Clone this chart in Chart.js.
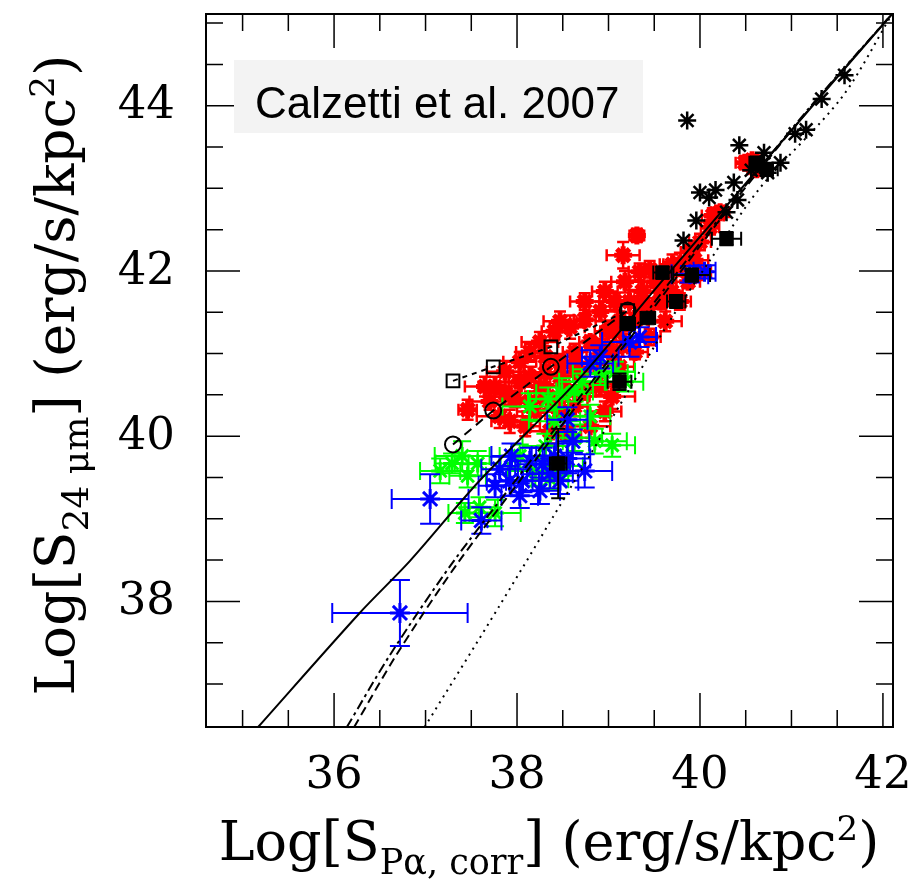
<!DOCTYPE html>
<html>
<head>
<meta charset="utf-8">
<script src="https://cdn.jsdelivr.net/npm/chart.js@4.4.0/dist/chart.umd.min.js"></script>
<style>
  html, body { margin: 0; padding: 0; background: #fff; }
  #wrap { width: 918px; height: 879px; }
</style>
</head>
<body>
<div id="wrap"><canvas id="c" width="918" height="879"></canvas></div>
<script>
// ---------- axis ranges / ticks ----------
const xRange = [34.6, 42.11];
const yRange = [36.48, 45.11];
const xMajorTicks = [36, 38, 40, 42];
const xTickLabels = ['36', '38', '40', '42'];
const xMinorTicks = [35, 35.5, 36, 36.5, 37, 37.5, 38, 38.5, 39, 39.5, 40, 40.5, 41, 41.5, 42];
const yMajorTicks = [38, 40, 42, 44];
const yTickLabels = ['38', '40', '42', '44'];
const yMinorTicks = [37, 37.5, 38, 38.5, 39, 39.5, 40, 40.5, 41, 41.5, 42, 42.5, 43, 43.5, 44, 44.5, 45];

// ---------- red points ----------
const redX = [37.46,37.70,37.87,38.03,38.14,38.31,38.34,38.47,38.52,38.63,38.69,38.80,38.85,38.91,38.99,39.04,39.12,39.18,39.23,39.30,39.37,39.43,39.51,39.56,39.65,39.69,39.78,39.87,39.94,40.00,38.25,38.41,38.58,38.74,38.91,39.07,39.18,39.31,39.16,39.45,39.70,39.89,40.00,40.11,40.49,40.57,40.62,37.92,38.09,38.36,38.55,38.80,38.96,38.20,38.63,39.04,38.47,37.81,38.03,38.14,37.87,37.65,39.34,38.96,38.74,38.47,40.22,40.14,37.76,37.98,38.25,38.41,38.74,39.12,39.29,39.45,39.62,39.78,38.47,38.31,38.91,39.07,39.34,39.56,38.14,38.63];
const redY = [40.32,40.42,40.52,40.66,40.42,40.76,40.48,40.90,40.60,41.02,40.76,41.14,40.88,40.60,41.27,41.02,41.39,41.14,41.63,41.41,41.75,41.57,41.87,41.63,41.99,41.75,42.08,41.87,42.13,41.99,41.14,41.27,41.32,41.41,41.51,41.63,41.87,42.43,42.19,42.02,42.08,42.23,42.35,42.53,43.31,43.34,43.23,40.18,40.12,40.06,40.02,40.12,40.30,40.30,40.36,40.48,40.30,40.24,40.90,41.02,40.78,40.60,41.99,41.75,41.63,41.39,42.71,42.67,40.60,40.45,40.60,40.42,40.54,40.84,41.02,41.20,41.39,41.63,40.72,40.96,41.08,41.27,41.57,41.81,40.72,40.84];
const redXErr = [0.10,0.22,0.15,0.12,0.18,0.14,0.20,0.12,0.16,0.13,0.18,0.12,0.15,0.20,0.14,0.12,0.16,0.13,0.18,0.12,0.15,0.20,0.12,0.14,0.16,0.12,0.18,0.13,0.15,0.12,0.20,0.14,0.16,0.12,0.18,0.13,0.15,0.08,0.18,0.12,0.14,0.10,0.12,0.10,0.10,0.08,0.10,0.20,0.16,0.25,0.15,0.22,0.18,0.20,0.14,0.25,0.16,0.25,0.18,0.15,0.20,0.22,0.12,0.14,0.16,0.18,0.10,0.12,0.18,0.14,0.20,0.15,0.12,0.16,0.14,0.12,0.18,0.12,0.15,0.20,0.14,0.16,0.12,0.14,0.18,0.15];
const redYErr = [0.12,0.10,0.14,0.08,0.12,0.10,0.15,0.09,0.12,0.10,0.14,0.08,0.12,0.10,0.13,0.09,0.12,0.10,0.14,0.08,0.12,0.10,0.13,0.09,0.12,0.10,0.14,0.08,0.12,0.10,0.12,0.10,0.14,0.08,0.12,0.10,0.13,0.08,0.16,0.10,0.12,0.08,0.10,0.09,0.08,0.07,0.08,0.14,0.12,0.15,0.10,0.14,0.12,0.10,0.12,0.15,0.10,0.14,0.12,0.10,0.13,0.12,0.10,0.12,0.10,0.12,0.08,0.09,0.12,0.10,0.13,0.11,0.10,0.12,0.09,0.10,0.12,0.10,0.11,0.13,0.10,0.12,0.09,0.10,0.12,0.11];

// ---------- green points ----------
const greenX = [37.16,37.29,37.40,37.46,37.57,37.43,37.76,37.59,38.03,38.20,38.36,38.31,38.14,38.34,38.49,38.63,38.71,38.91,39.07,38.63,38.85,39.04,38.52,38.41,38.80,39.18];
const greenY = [39.58,39.67,39.76,39.52,39.67,39.07,39.07,39.14,39.76,39.58,39.48,39.88,40.36,40.45,40.52,40.54,40.66,40.76,40.78,39.98,39.94,39.89,39.64,40.18,40.24,40.66];
const greenXErr = [0.22,0.18,0.30,0.20,0.25,0.18,0.28,0.20,0.22,0.30,0.20,0.25,0.30,0.22,0.28,0.20,0.25,0.30,0.22,0.30,0.35,0.25,0.20,0.28,0.22,0.20];
const greenYErr = [0.15,0.12,0.18,0.14,0.15,0.12,0.16,0.12,0.14,0.18,0.12,0.15,0.16,0.14,0.18,0.12,0.15,0.14,0.12,0.16,0.15,0.14,0.12,0.15,0.14,0.12];

// ---------- blue points ----------
const blueX = [36.72,37.05,37.61,37.81,37.92,38.06,38.14,38.28,38.41,38.55,38.61,38.74,38.55,38.80,38.91,39.23,39.34,39.89,40.05,38.25,38.03,38.36,37.76,37.94,38.47];
const blueY = [37.86,39.24,38.98,39.60,39.46,39.46,39.70,39.66,39.76,39.73,39.94,39.58,40.20,40.88,40.96,41.14,41.20,41.96,41.99,39.34,39.28,39.55,39.40,39.76,39.46];
const blueXErr = [0.74,0.42,0.22,0.20,0.25,0.18,0.22,0.30,0.20,0.25,0.18,0.30,0.22,0.25,0.20,0.30,0.18,0.20,0.12,0.22,0.20,0.25,0.18,0.22,0.20];
const blueYErr = [0.40,0.30,0.16,0.15,0.18,0.14,0.16,0.20,0.15,0.18,0.14,0.20,0.15,0.16,0.14,0.18,0.12,0.10,0.08,0.16,0.15,0.18,0.14,0.15,0.16];

// ---------- black asterisks ----------
const starX = [39.86,40.43,40.70,40.88,41.04,41.16,41.33,40.00,40.10,39.96,39.82,40.37,40.41,40.74,40.17,40.29,41.58,40.56];
const starY = [43.82,43.52,43.43,43.31,43.66,43.71,44.08,42.95,42.89,42.61,42.37,43.07,42.86,43.19,42.98,42.71,44.37,43.22];

// ---------- black filled squares ----------
const sqX = [40.62,40.73,40.29,39.59,39.91,39.74,39.43,39.21,39.12,38.45];
const sqY = [43.31,43.23,42.39,41.98,41.95,41.63,41.43,41.36,40.66,39.67];
const sqXErr = [0.08,0.12,0.16,0.10,0.20,0.10,0.08,0.08,0.13,0.09];
const sqYErr = [0.06,0.08,0.08,0.07,0.08,0.08,0.06,0.06,0.10,0.42];

// ---------- model tracks ----------
const trackX = [37.30, 37.74, 38.37, 39.21];
const trackSqY = [40.67, 40.84, 41.08, 41.52];
const trackCircY = [39.90, 40.31, 40.84, 41.52];

// ---------- fit / model curves ----------
const solidX = [35.17, 36.28, 36.83, 37.59, 38.65, 39.64, 41.45, 42.10];
const solidY = [36.48, 37.86, 38.49, 39.46, 40.66, 41.95, 44.28, 45.11];
const dashAX = [36.14, 36.61, 37.27, 37.98, 38.69, 39.34, 40.22, 41.20, 42.10];
const dashAY = [36.48, 37.35, 38.43, 39.46, 40.48, 41.39, 42.65, 43.98, 45.11];
const dashBX = [36.22, 36.68, 37.33, 38.03, 38.73, 39.38, 40.24, 41.21, 42.10];
const dashBY = [36.48, 37.35, 38.43, 39.46, 40.48, 41.39, 42.65, 43.98, 45.11];
const dotX = [36.99, 37.81, 38.63, 39.18, 39.65, 40.11, 40.66, 41.55, 42.10];
const dotY = [36.48, 37.95, 39.46, 40.48, 41.36, 42.13, 43.01, 44.10, 45.11];

const pts = (xs, ys) => xs.map((v, i) => ({ x: v, y: ys[i] }));

const errorBarPlugin = {
  id: 'errorBars',
  beforeDatasetDraw(chart, args) {
    const ds = chart.data.datasets[args.index];
    if (!ds.xErr && !ds.yErr) return;
    const xs = chart.scales.x, ys = chart.scales.y, a = chart.chartArea;
    const ctx = chart.ctx;
    ctx.save();
    ctx.beginPath();
    ctx.rect(a.left, a.top, a.right - a.left, a.bottom - a.top);
    ctx.clip();
    ctx.strokeStyle = ds.borderColor;
    ctx.lineWidth = ds.errWidth || 2;
    const cap = (ds.capSize || 12) / 2;
    ds.data.forEach((p, i) => {
      const px = xs.getPixelForValue(p.x), py = ys.getPixelForValue(p.y);
      ctx.beginPath();
      if (ds.xErr) {
        const x1 = xs.getPixelForValue(p.x - ds.xErr[i]);
        const x2 = xs.getPixelForValue(p.x + ds.xErr[i]);
        ctx.moveTo(x1, py); ctx.lineTo(x2, py);
        ctx.moveTo(x1, py - cap); ctx.lineTo(x1, py + cap);
        ctx.moveTo(x2, py - cap); ctx.lineTo(x2, py + cap);
      }
      if (ds.yErr) {
        const y1 = ys.getPixelForValue(p.y - ds.yErr[i]);
        const y2 = ys.getPixelForValue(p.y + ds.yErr[i]);
        ctx.moveTo(px, y1); ctx.lineTo(px, y2);
        ctx.moveTo(px - cap, y1); ctx.lineTo(px + cap, y1);
        ctx.moveTo(px - cap, y2); ctx.lineTo(px + cap, y2);
      }
      ctx.stroke();
    });
    ctx.restore();
  }
};

function drawRich(ctx, parts, cx, baseY) {
  let total = 0;
  parts.forEach(p => { ctx.font = p[1] + 'px "DejaVu Serif"'; total += ctx.measureText(p[0]).width; });
  let x = cx - total / 2;
  ctx.textAlign = 'left';
  ctx.textBaseline = 'alphabetic';
  parts.forEach(p => {
    ctx.font = p[1] + 'px "DejaVu Serif"';
    ctx.fillText(p[0], x, baseY + p[2]);
    x += ctx.measureText(p[0]).width;
  });
}

const framePlugin = {
  id: 'frameAxes',
  afterDraw(chart) {
    const { ctx, chartArea: a, scales: { x, y } } = chart;
    ctx.save();
    ctx.strokeStyle = '#000';
    ctx.lineWidth = 1.5;
    ctx.beginPath();
    xMinorTicks.forEach(v => {
      const px = x.getPixelForValue(v);
      const L = xMajorTicks.includes(v) ? 34 : 17;
      ctx.moveTo(px, a.bottom); ctx.lineTo(px, a.bottom - L);
      ctx.moveTo(px, a.top); ctx.lineTo(px, a.top + L);
    });
    yMinorTicks.forEach(v => {
      const py = y.getPixelForValue(v);
      const L = yMajorTicks.includes(v) ? 34 : 17;
      ctx.moveTo(a.left, py); ctx.lineTo(a.left + L, py);
      ctx.moveTo(a.right, py); ctx.lineTo(a.right - L, py);
    });
    ctx.stroke();
    ctx.lineWidth = 2;
    ctx.strokeRect(a.left, a.top, a.right - a.left, a.bottom - a.top);

    // annotation box
    ctx.fillStyle = '#f3f3f3';
    ctx.fillRect(234, 60, 409, 73);
    ctx.fillStyle = '#000';
    ctx.font = '44px "Liberation Sans", Arial, sans-serif';
    ctx.textAlign = 'left';
    ctx.textBaseline = 'alphabetic';
    ctx.fillText('Calzetti et al. 2007', 255, 118);

    // tick labels
    ctx.font = '45px "DejaVu Serif"';
    ctx.textAlign = 'center';
    xMajorTicks.forEach((v, i) => {
      ctx.fillText(xTickLabels[i], x.getPixelForValue(v), 788);
    });
    ctx.textAlign = 'right';
    ctx.textBaseline = 'middle';
    yMajorTicks.forEach((v, i) => {
      ctx.fillText(yTickLabels[i], 175, y.getPixelForValue(v) + 1);
    });

    // axis titles
    drawRich(ctx, [['Log[S', 54, 0], ['Pα, corr', 35, 14], ['] (erg/s/kpc', 54, 0], ['2', 34, -20], [')', 54, 0]], 549, 860);
    ctx.save();
    ctx.translate(74, 375);
    ctx.rotate(-Math.PI / 2);
    drawRich(ctx, [['Log[S', 55, 0], ['24 μm', 36, 14], ['] (erg/s/kpc', 55, 0], ['2', 34, -20], [')', 55, 0]], 0, 0);
    ctx.restore();
    ctx.restore();
  }
};

const lineDs = (xs, ys, dash, order) => ({
  data: pts(xs, ys), showLine: true, borderColor: '#000', borderWidth: 2,
  borderDash: dash, pointRadius: 0, tension: 0.3, fill: false, order: order
});

new Chart(document.getElementById('c'), {
  type: 'scatter',
  data: {
    datasets: [
      lineDs(solidX, solidY, [], 0),
      lineDs(dashAX, dashAY, [10, 4, 3, 4], 0),
      lineDs(dashBX, dashBY, [9, 5], 0),
      lineDs(dotX, dotY, [2, 5], 0),
      { data: pts(trackX, trackSqY), showLine: true, borderColor: '#000', borderWidth: 2, borderDash: [5, 5],
        pointStyle: 'rect', pointRadius: 9, pointBorderWidth: 2, pointBackgroundColor: 'rgba(0,0,0,0)', pointBorderColor: '#000', order: 1 },
      { data: pts(trackX, trackCircY), showLine: true, borderColor: '#000', borderWidth: 2, borderDash: [9, 6],
        pointStyle: 'circle', pointRadius: 8, pointBorderWidth: 2, pointBackgroundColor: 'rgba(0,0,0,0)', pointBorderColor: '#000', order: 1 },
      { data: pts(sqX, sqY), xErr: sqXErr, yErr: sqYErr, capSize: 14, borderColor: '#000', backgroundColor: '#000',
        pointStyle: 'rect', pointRadius: 9.5, pointBorderWidth: 1, order: 2 },
      { data: pts(starX, starY), borderColor: '#000', backgroundColor: '#000',
        pointStyle: 'star', pointRadius: 9, pointBorderWidth: 2.5, order: 3 },
      { data: pts(blueX, blueY), xErr: blueXErr, yErr: blueYErr, capSize: 20, errWidth: 2, borderColor: '#0000ff', backgroundColor: '#0000ff',
        pointStyle: 'star', pointRadius: 10, pointBorderWidth: 3, order: 4 },
      { data: pts(greenX, greenY), xErr: greenXErr, yErr: greenYErr, capSize: 18, errWidth: 2, borderColor: '#00ff00', backgroundColor: '#00ff00',
        pointStyle: 'star', pointRadius: 9, pointBorderWidth: 3, order: 5 },
      { data: pts(redX, redY), xErr: redXErr, yErr: redYErr, capSize: 12, errWidth: 2.5, borderColor: '#ff0000', backgroundColor: '#ff0000',
        pointStyle: 'star', pointRadius: 9, pointBorderWidth: 5, order: 6 }
    ]
  },
  options: {
    responsive: false,
    animation: false,
    devicePixelRatio: 1,
    layout: { padding: { left: 206, top: 11, right: 25, bottom: 152 } },
    plugins: { legend: { display: false }, tooltip: { enabled: false } },
    scales: {
      x: { type: 'linear', min: xRange[0], max: xRange[1], display: false },
      y: { type: 'linear', min: yRange[0], max: yRange[1], display: false }
    }
  },
  plugins: [errorBarPlugin, framePlugin]
});
</script>
</body>
</html>
